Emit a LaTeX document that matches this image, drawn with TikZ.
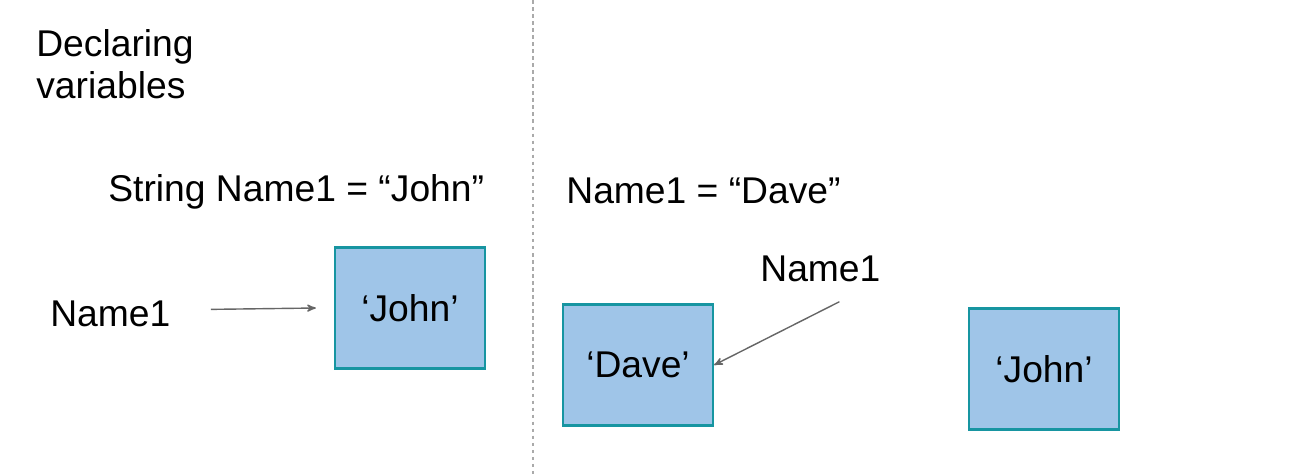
\documentclass[tikz,border=0pt]{standalone}
\usepackage{fontspec}
\setmainfont{Liberation Sans}
\usetikzlibrary{arrows,positioning}
\definecolor{boxfill}{HTML}{9FC5E8}
\definecolor{boxline}{HTML}{1795A1}
\definecolor{ptrgray}{HTML}{666666}
\definecolor{divgray}{HTML}{AAAAAA}

\begin{document}
\begin{tikzpicture}[x=0.02cm,y=-0.02cm,>=stealth',
  txt/.style={font=\fontsize{21.2}{24}\selectfont, inner sep=0pt},
  val/.style={draw=boxline, line width=1.3pt, fill=boxfill, minimum width=3cm, minimum height=2.42cm, font=\fontsize{21.2}{24}\selectfont},
  ptr/.style={->, draw=ptrgray, line width=0.8pt}]
  \useasboundingbox (0,0) rectangle (1300,474);
  \draw[divgray, line width=0.8pt, dash pattern=on 2pt off 2pt] (533,0) -- (533,474);

  % left half
  \node[txt, anchor=north west, align=left] (title) at (36,29) {Declaring\\variables};
  \node[txt, anchor=base west] (decl)  at (108,201) {String Name1 = “John”};
  \node[txt, anchor=base west] (nameA) at (50,326)  {Name1};
  \node[val] (johnA) at (410,308) {‘John’};

  % right half
  \node[txt, anchor=base west] (assign) at (566,203) {Name1 = “Dave”};
  \node[txt, anchor=base west] (nameB)  at (760,281) {Name1};
  \node[val] (dave)  at (638,365) {‘Dave’};
  \node[val] (johnB) at (1044,369) {‘John’};

  \path
    ([shift={(40,-4)}]nameA.east) edge[ptr] ([xshift=-0.36cm]johnA.west)
    ([shift={(19,20)}]nameB.south) edge[ptr] (dave.east);
\end{tikzpicture}
\end{document}
